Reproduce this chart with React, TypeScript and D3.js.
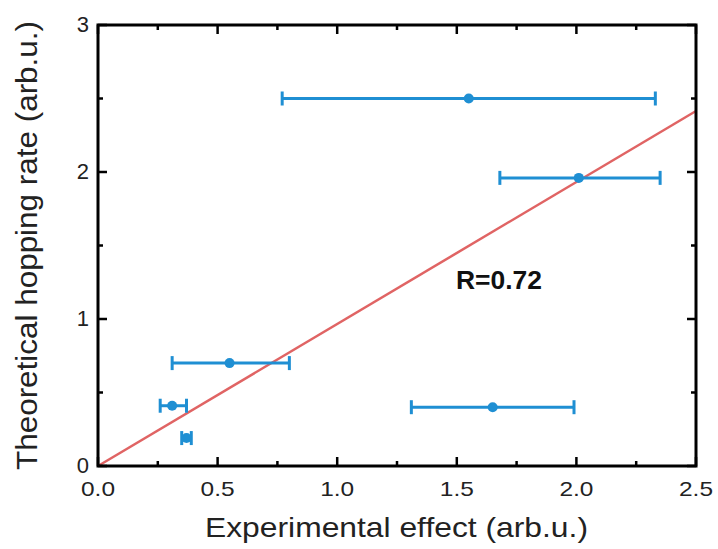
import React from "react";
import * as d3 from "d3";

const xVals = [1.55, 2.01, 0.55, 0.31, 0.37, 1.65];
const yVals = [2.5, 1.96, 0.7, 0.41, 0.19, 0.4];
const xLow = [0.77, 1.68, 0.31, 0.26, 0.35, 1.31];
const xHigh = [2.33, 2.35, 0.8, 0.37, 0.39, 1.99];
const fitSlope = 0.966;
const xTicks = [0, 0.5, 1.0, 1.5, 2.0, 2.5];
const yTicks = [0, 1, 2, 3];
const xMinor = [0.25, 0.75, 1.25, 1.75, 2.25];
const yMinor = [0.5, 1.5, 2.5];

const W = 718, H = 549;
const L = 98, R = 696, T = 25, B = 466;

export default function App() {
  const x = d3.scaleLinear().domain([0, 2.5]).range([L, R]);
  const y = d3.scaleLinear().domain([0, 3]).range([B, T]);
  const blue = "#1f8fd3";
  const red = "#e06464";
  const font = "'Liberation Sans', Arial, sans-serif";
  const line = d3.line<number>().x((d) => x(d)).y((d) => y(fitSlope * d));
  return (
    <svg width={W} height={H} style={{ position: "absolute", left: 0, top: 0, background: "#fff" }}>
      <path d={line([0, 2.5]) || ""} stroke={red} strokeWidth={2.5} fill="none" />
      {xVals.map((v, i) => (
        <g key={i} stroke={blue} strokeWidth={3} fill={blue}>
          <line x1={x(xLow[i])} x2={x(xHigh[i])} y1={y(yVals[i])} y2={y(yVals[i])} />
          <line x1={x(xLow[i])} x2={x(xLow[i])} y1={y(yVals[i]) - 7} y2={y(yVals[i]) + 7} />
          <line x1={x(xHigh[i])} x2={x(xHigh[i])} y1={y(yVals[i]) - 7} y2={y(yVals[i]) + 7} />
          <circle cx={x(v)} cy={y(yVals[i])} r={5} stroke="none" />
        </g>
      ))}
      {xTicks.map((t) => (
        <g key={"xt" + t}>
          <line x1={x(t)} x2={x(t)} y1={B} y2={B - 9} stroke="#000" strokeWidth={2.5} />
          <line x1={x(t)} x2={x(t)} y1={T} y2={T + 9} stroke="#000" strokeWidth={2.5} />
          <text x={x(t)} y={B + 30} textAnchor="middle" fontSize={21} fontFamily={font} fill="#222"
            textLength={34} lengthAdjust="spacingAndGlyphs">
            {t.toFixed(1)}
          </text>
        </g>
      ))}
      {xMinor.map((t) => (
        <g key={"xm" + t}>
          <line x1={x(t)} x2={x(t)} y1={B} y2={B - 5} stroke="#000" strokeWidth={2.5} />
          <line x1={x(t)} x2={x(t)} y1={T} y2={T + 5} stroke="#000" strokeWidth={2.5} />
        </g>
      ))}
      {yTicks.map((t) => (
        <g key={"yt" + t}>
          <line x1={L} x2={L + 9} y1={y(t)} y2={y(t)} stroke="#000" strokeWidth={2.5} />
          <line x1={R} x2={R - 9} y1={y(t)} y2={y(t)} stroke="#000" strokeWidth={2.5} />
          <text x={89} y={y(t) + 7} textAnchor="end" fontSize={22} fontFamily={font} fill="#222">
            {t}
          </text>
        </g>
      ))}
      {yMinor.map((t) => (
        <g key={"ym" + t}>
          <line x1={L} x2={L + 5} y1={y(t)} y2={y(t)} stroke="#000" strokeWidth={2.5} />
          <line x1={R} x2={R - 5} y1={y(t)} y2={y(t)} stroke="#000" strokeWidth={2.5} />
        </g>
      ))}
      <rect x={L} y={T} width={R - L} height={B - T} fill="none" stroke="#000" strokeWidth={3} />
      <text x={456} y={289} fontSize={25} fontWeight="bold" fontFamily={font} fill="#111"
        textLength={86} lengthAdjust="spacingAndGlyphs">R=0.72</text>
      <text x={396.5} y={537} textAnchor="middle" fontSize={28} fontFamily={font} fill="#222"
        textLength={383} lengthAdjust="spacingAndGlyphs">
        Experimental effect (arb.u.)
      </text>
      <text transform={`translate(37,245.5) rotate(-90)`} textAnchor="middle" fontSize={29} fontFamily={font} fill="#222"
        textLength={449} lengthAdjust="spacingAndGlyphs">
        Theoretical hopping rate (arb.u.)
      </text>
    </svg>
  );
}
